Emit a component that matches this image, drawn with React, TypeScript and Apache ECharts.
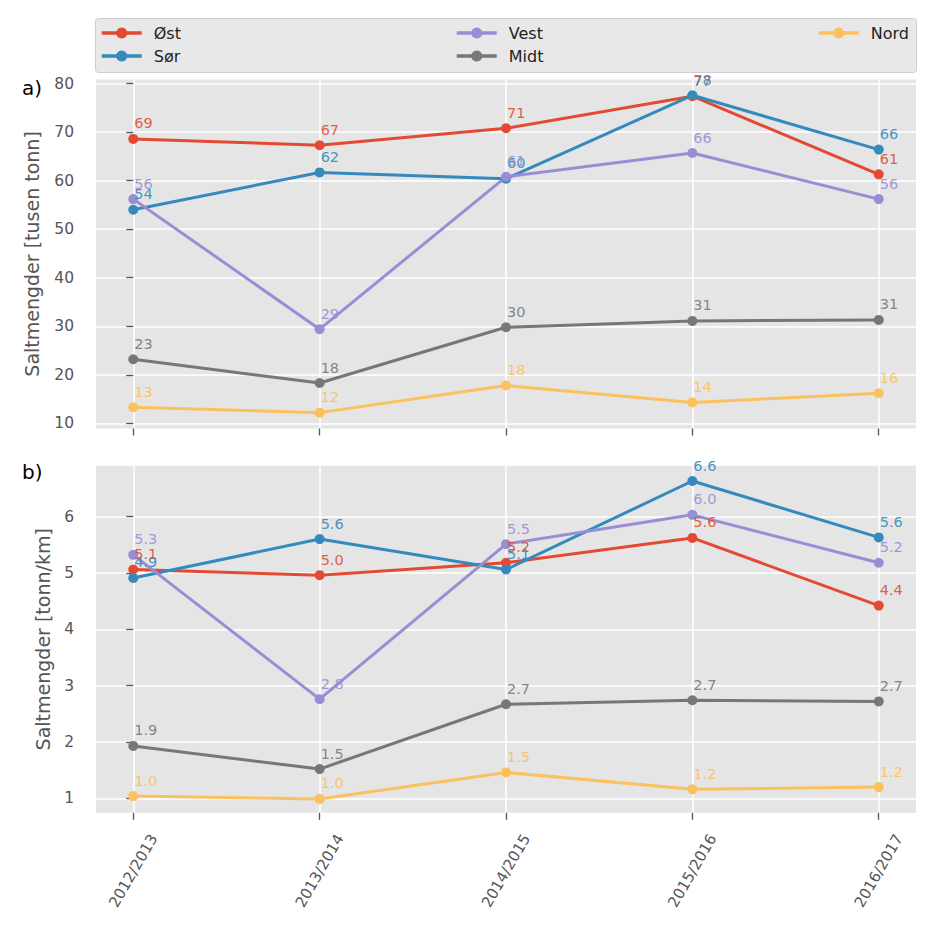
import React, { useEffect, useRef } from 'react';
import * as echarts from 'echarts';

const categories = ['2012/2013', '2013/2014', '2014/2015', '2015/2016', '2016/2017'];
const regions = ['Øst', 'Sør', 'Vest', 'Midt', 'Nord'];
const colors = ['#E24A33', '#348ABD', '#988ED5', '#777777', '#FBC15E'];
const labelColors = ['rgba(226,74,51,0.9)', 'rgba(52,138,189,0.9)', 'rgba(152,142,213,0.9)', 'rgba(119,119,119,0.9)', 'rgba(251,193,94,0.9)'];

// a) Saltmengder [tusen tonn]
const ostA = [68.6, 67.3, 70.8, 77.4, 61.3];
const sorA = [54.0, 61.7, 60.4, 77.6, 66.4];
const vestA = [56.2, 29.4, 60.8, 65.7, 56.2];
const midtA = [23.2, 18.3, 29.8, 31.1, 31.3];
const nordA = [13.3, 12.2, 17.8, 14.3, 16.2];

// b) Saltmengder [tonn/km]
const ostB = [5.06, 4.96, 5.18, 5.62, 4.42];
const sorB = [4.91, 5.6, 5.06, 6.63, 5.63];
const vestB = [5.32, 2.76, 5.51, 6.03, 5.18];
const midtB = [1.93, 1.52, 2.67, 2.74, 2.72];
const nordB = [1.04, 0.99, 1.46, 1.16, 1.2];

const ticksA = [10, 20, 30, 40, 50, 60, 70, 80];
const ticksB = [1, 2, 3, 4, 5, 6];

const seriesA = [ostA, sorA, vestA, midtA, nordA];
const seriesB = [ostB, sorB, vestB, midtB, nordB];

const FONT = 'DejaVu Sans';

export default function App() {
  const ref = useRef<HTMLDivElement>(null);
  useEffect(() => {
    document.body.style.margin = '0';
    if (!ref.current) return;
    const chart = echarts.init(ref.current, null, { renderer: 'svg' });
    const xIdx = categories.map((_, i) => i);

    const mkX = (g: number) => ({
      type: 'value',
      gridIndex: g,
      min: -0.2,
      max: 4.2,
      axisLine: { show: false },
      axisTick: { show: true, customValues: xIdx, length: 7, lineStyle: { color: '#555', width: 1.3 } },
      axisLabel:
        g === 1
          ? {
              show: true,
              customValues: xIdx,
              formatter: (v: number) => categories[Math.round(v)],
              rotate: 60,
              align: 'center',
              verticalAlign: 'middle',
              margin: 58,
              fontSize: 15,
              color: '#555',
              fontFamily: FONT,
            }
          : { show: false },
      splitLine: { show: true, lineStyle: { color: '#fff', width: 1.5 } },
    });

    const mkY = (g: number) => ({
      type: 'value',
      gridIndex: g,
      min: g === 0 ? 8.93 : 0.744,
      max: g === 0 ? 80.87 : 6.9,
      axisLine: { show: false },
      axisTick: { show: true, customValues: g === 0 ? ticksA : ticksB, length: 7, lineStyle: { color: '#555', width: 1.3 } },
      axisLabel: { customValues: g === 0 ? ticksA : ticksB, margin: 22, fontSize: 15.5, color: '#555', fontFamily: FONT },
      splitLine: { show: true, lineStyle: { color: '#fff', width: 1.5 } },
      name: g === 0 ? 'Saltmengder [tusen tonn]' : 'Saltmengder [tonn/km]',
      nameLocation: 'middle',
      nameGap: g === 0 ? 55 : 44,
      nameRotate: 90,
      nameTextStyle: { fontSize: 19, color: '#555', fontFamily: FONT },
    });

    const series: any[] = [];
    [seriesA, seriesB].forEach((set, g) => {
      set.forEach((vals, k) => {
        series.push({
          type: 'line',
          name: regions[k],
          xAxisIndex: g,
          yAxisIndex: g,
          data: vals.map((v, i) => [i, v]),
          color: colors[k],
          lineStyle: { width: 3, color: colors[k] },
          itemStyle: { color: colors[k] },
          symbol: 'circle',
          symbolSize: 10,
          showSymbol: true,
          emphasis: { disabled: true },
          label: {
            show: true,
            position: 'top',
            distance: 3,
            align: 'left',
            offset: [1, 0],
            color: labelColors[k],
            fontSize: 14.5,
            fontFamily: FONT,
            formatter: (p: any) => (g === 0 ? String(Math.round(p.value[1])) : p.value[1].toFixed(1)),
          },
        });
      });
    });

    const legendBase = {
      orient: 'vertical',
      top: 25,
      padding: 0,
      itemWidth: 40,
      itemHeight: 14,
      itemGap: 7,
      selectedMode: false,
      lineStyle: { width: 3.5 },
      textStyle: { fontSize: 16, color: '#222', fontFamily: FONT, padding: [0, 0, 0, 7] },
    };

    chart.setOption({
      animation: false,
      backgroundColor: '#ffffff',
      grid: [
        { left: 96, right: 22, top: 79.4, height: 349.1, show: true, backgroundColor: '#E5E5E5', borderWidth: 0 },
        { left: 96, right: 22, top: 465.8, height: 347, show: true, backgroundColor: '#E5E5E5', borderWidth: 0 },
      ],
      xAxis: [mkX(0), mkX(1)],
      yAxis: [mkY(0), mkY(1)],
      legend: [
        { ...legendBase, left: 100, data: ['Øst', 'Sør'] },
        { ...legendBase, left: 455, data: ['Vest', 'Midt'] },
        { ...legendBase, left: 817, data: ['Nord'] },
      ],
      graphic: [
        {
          type: 'rect',
          z: 0,
          shape: { x: 95.5, y: 18.5, width: 821, height: 54, r: 3 },
          style: { fill: '#e8e8e8', stroke: '#cfcfcf', lineWidth: 1 },
        },
        { type: 'text', left: 22, top: 78, style: { text: 'a)', font: '20px "DejaVu Sans"', fill: '#000' } },
        { type: 'text', left: 22, top: 462, style: { text: 'b)', font: '20px "DejaVu Sans"', fill: '#000' } },
      ],
      series,
    });
    return () => chart.dispose();
  }, []);
  return <div ref={ref} style={{ width: 938, height: 938 }} />;
}
